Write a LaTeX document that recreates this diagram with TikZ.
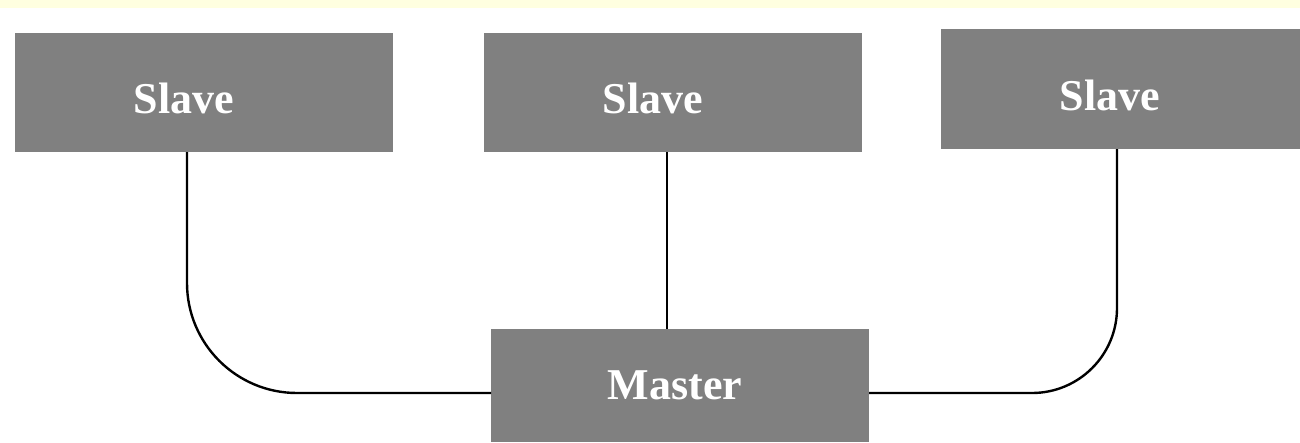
\documentclass[tikz,border=0pt]{standalone}
\usepackage{fontspec}
\setmainfont{Liberation Serif}
\definecolor{boxgray}{HTML}{808080}
\definecolor{topyellow}{HTML}{FFFFE0}
\begin{document}
\begin{tikzpicture}[x=1pt,y=-1pt,
  box/.style={fill=boxgray,draw=none,inner sep=0pt,outer sep=0pt},
  lbl/.style={text=white,font=\fontsize{44}{44}\selectfont\bfseries,inner sep=0pt,anchor=base},
  wire/.style={draw=black,line width=2.4pt}]
\useasboundingbox (0,0) rectangle (1300,442);
\fill[white] (0,0) rectangle (1300,442);
\fill[topyellow] (0,0) rectangle (1300,8);
\node[box,minimum width=378pt,minimum height=119pt] (s1) at (204,92.5) {};
\node[box,minimum width=378pt,minimum height=119pt] (s2) at (673,92.5) {};
\node[box,minimum width=359pt,minimum height=120pt] (s3) at (1120.5,89) {};
\node[box,minimum width=378pt,minimum height=113pt] (m) at (680,385.5) {};
\node[lbl] (t1) at (184,113) {Slave};
\node[lbl] (t2) at (653,113) {Slave};
\node[lbl] (t3) at (1110,110) {Slave};
\node[lbl] (t4) at (675,399) {Master};
\draw[wire,rounded corners=110pt] ([xshift=-17pt]s1.south) |- ([yshift=-7.5pt]m.west);
\draw[wire] ([xshift=-6pt]s2.south) -- ([xshift=-13pt]m.north);
\draw[wire,rounded corners=85pt] ([xshift=-3.5pt]s3.south) |- ([yshift=-7.5pt]m.east);
\end{tikzpicture}
\end{document}
